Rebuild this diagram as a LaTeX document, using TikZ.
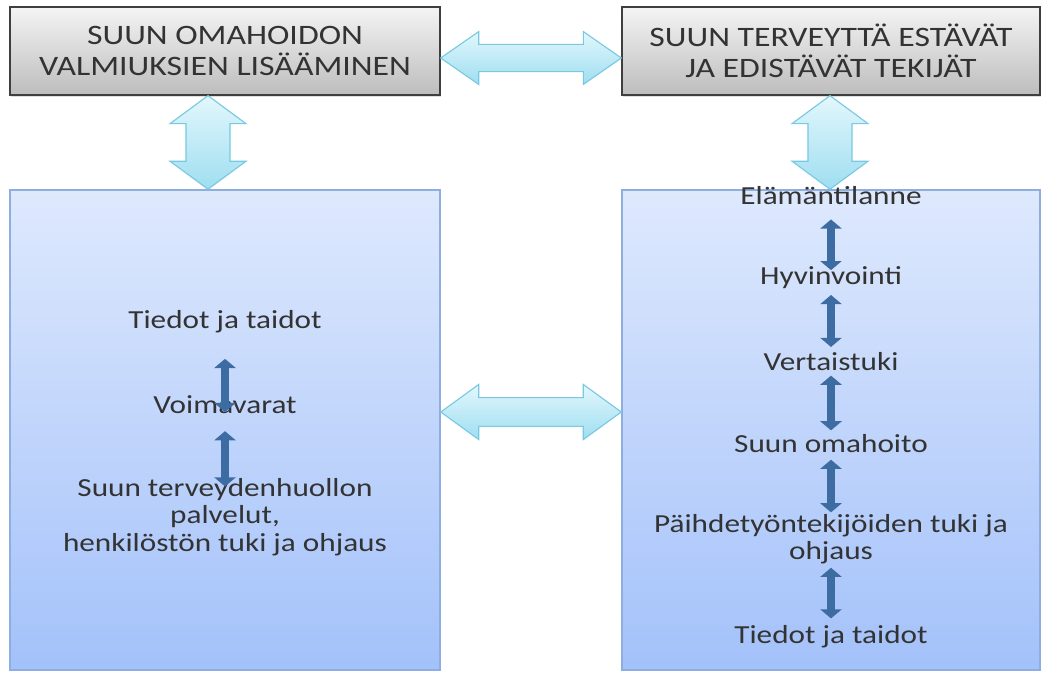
\documentclass[tikz,border=0pt]{standalone}
\usepackage{fontspec}
\setmainfont{Carlito}[FakeStretch=1.2]
\usetikzlibrary{arrows.meta, calc, shadows}

\definecolor{greyedge}{HTML}{3F3F3F}
\definecolor{greytop}{HTML}{F4F4F4}
\definecolor{greybot}{HTML}{BDBDBD}
\definecolor{blueedge}{HTML}{8EAEE0}
\definecolor{bluetop}{HTML}{DEE9FD}
\definecolor{bluebot}{HTML}{A3C1FA}
\definecolor{arrowedge}{HTML}{79C9E2}
\definecolor{arrowtop}{HTML}{E3F7FC}
\definecolor{arrowbot}{HTML}{9EDEF1}
\definecolor{arrowblue}{HTML}{3D6CA3}
\definecolor{textgrey}{HTML}{333333}

% block arrow with two heads: start, end, shaft half width, head half width, head length
\newcommand{\dblarrow}[5]{%
  \path[bigarrow] let \p1=#1, \p2=#2, \n1={atan2(\y2-\y1,\x2-\x1)}, \n2={veclen(\x2-\x1,\y2-\y1)} in
    [shift={(\p1)}, rotate=\n1]
    (0pt,0pt) -- (#5,#4) -- (#5,#3) -- ({\n2*1pt-#5},#3) -- ({\n2*1pt-#5},#4) -- ({\n2*1pt},0pt)
    -- ({\n2*1pt-#5},-#4) -- ({\n2*1pt-#5},-#3) -- (#5,-#3) -- (#5,-#4) -- cycle;
}

\begin{document}
\begin{tikzpicture}[x=0.025cm, y=-0.025cm,
    greybox/.style={draw=greyedge, line width=0.9pt, top color=greytop, bottom color=greybot,
      minimum height=2.2cm, align=center, text=textgrey, font=\fontsize{20}{22}\selectfont,
      drop shadow={opacity=0.25, shadow xshift=1pt, shadow yshift=-1.5pt}},
    bluebox/.style={draw=blueedge, line width=1pt, top color=bluetop, bottom color=bluebot, minimum height=12cm},
    itemtext/.style={align=center, inner sep=1pt, text=textgrey, font=\fontsize{18.5}{19.5}\selectfont},
    bigarrow/.style={draw=arrowedge, line width=0.8pt, top color=arrowtop, bottom color=arrowbot},
    smallarrow/.style={draw=arrowblue, line width=5pt, {Triangle[width=15pt,length=6.5pt]}-{Triangle[width=15pt,length=6.5pt]}}]
  \fill[white] (0,0) rectangle (1044,672);
  \useasboundingbox (0,0) rectangle (1044,672);

  \node[greybox, minimum width=10.75cm] (valmiudet) at (225,51) {SUUN OMAHOIDON\\ VALMIUKSIEN LISÄÄMINEN};
  \node[greybox, minimum width=10.45cm] (tekijat) at (831,51) {SUUN TERVEYTTÄ ESTÄVÄT\\ JA EDISTÄVÄT TEKIJÄT};
  \node[bluebox, minimum width=10.75cm] (vasen) at (225,430) {};
  \node[bluebox, minimum width=10.45cm] (oikea) at (831,430) {};

  \coordinate (ylla) at (0,58);
  \coordinate (keski) at (0,412);
  \coordinate (xvasen) at (208,0);
  \coordinate (xoikea) at (830,0);

  \dblarrow{(valmiudet.east |- ylla)}{(tekijat.west |- ylla)}{0.34cm}{0.66cm}{0.95cm}
  \dblarrow{(vasen.east |- keski)}{(oikea.west |- keski)}{0.36cm}{0.69cm}{0.95cm}
  \dblarrow{(valmiudet.south -| xvasen)}{(vasen.north -| xvasen)}{0.55cm}{0.95cm}{0.7cm}
  \dblarrow{(tekijat.south -| xoikea)}{(oikea.north -| xoikea)}{0.55cm}{0.95cm}{0.7cm}

  \node[itemtext] (tiedot) at (225,322) {Tiedot ja taidot};
  \node[itemtext] (voimavarat) at (225,405) {Voimavarat};
  \node[itemtext] (palvelut) at (225,517) {Suun terveydenhuollon\\ palvelut,\\ henkilöstön tuki ja ohjaus};

  \node[itemtext] (elama) at (831,196) {Elämäntilanne};
  \node[itemtext] (hyvinvointi) at (831,278) {Hyvinvointi};
  \node[itemtext] (vertaistuki) at (831,362) {Vertaistuki};
  \node[itemtext] (omahoito) at (831,444) {Suun omahoito};
  \node[itemtext] (paihde) at (831,539) {Päihdetyöntekijöiden tuki ja\\ ohjaus};
  \node[itemtext] (taidot) at (831,637) {Tiedot ja taidot};

  \draw[smallarrow, shorten <=17pt, shorten >=-5pt] (tiedot.south) -- (voimavarat.center);
  \draw[smallarrow, shorten <=11pt, shorten >=-7pt] (voimavarat.south) -- (palvelut.north);

  \draw[smallarrow, shorten <=9pt, shorten >=-3.5pt] (elama.south) -- (hyvinvointi.north);
  \draw[smallarrow, shorten <=3pt, shorten >=3pt] (hyvinvointi.south) -- (vertaistuki.north);
  \draw[smallarrow, shorten <=2pt, shorten >=2pt] (vertaistuki.south) -- (omahoito.north);
  \draw[smallarrow, shorten <=3.5pt] (omahoito.south) -- (paihde.north);
  \draw[smallarrow, shorten <=1.5pt, shorten >=4pt] (paihde.south) -- (taidot.north);
\end{tikzpicture}
\end{document}
